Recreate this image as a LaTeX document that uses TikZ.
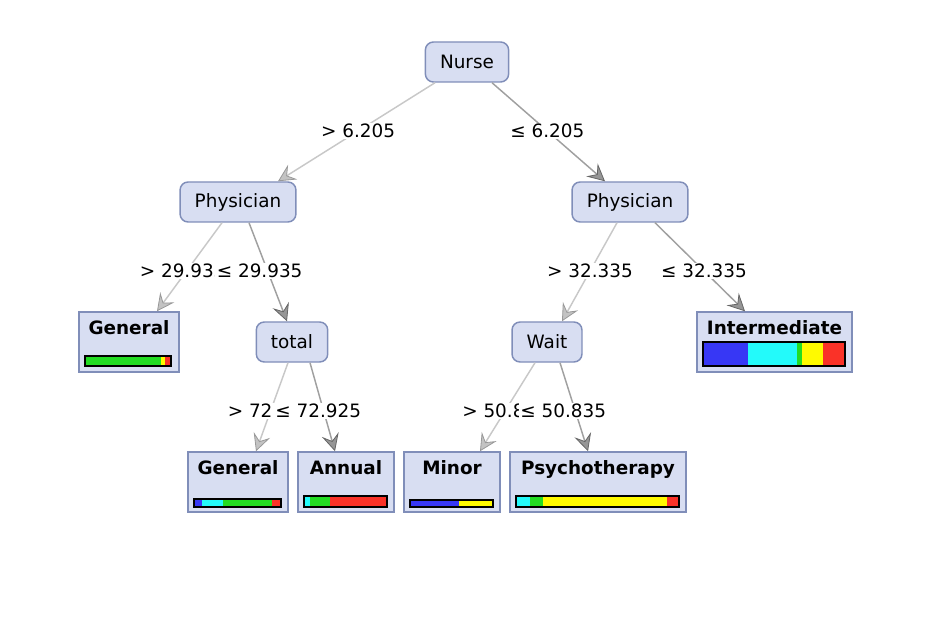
\documentclass[tikz,border=0pt]{standalone}
\usepackage{fontspec}
\setmainfont{DejaVu Sans}
\usetikzlibrary{arrows.meta, calc}

\definecolor{nodefill}{RGB}{216,222,242}
\definecolor{nodeline}{RGB}{128,142,185}
\definecolor{lightedge}{RGB}{200,200,200}
\definecolor{darkedge}{RGB}{160,160,160}
\definecolor{lightarrow}{RGB}{195,195,195}
\definecolor{darkarrow}{RGB}{150,150,150}
\definecolor{cblue}{RGB}{55,55,245}
\definecolor{ccyan}{RGB}{35,250,250}
\definecolor{cgreen}{RGB}{35,220,35}
\definecolor{cyellow}{RGB}{255,250,0}
\definecolor{cred}{RGB}{250,50,40}

\begin{document}
\begin{tikzpicture}[
    x=0.75pt, y=-0.75pt,
    font=\fontsize{13.8}{16}\selectfont,
    inner/.style={
        draw=nodeline, fill=nodefill, rounded corners=6pt,
        line width=1.1pt, minimum height=30pt, inner xsep=11pt
    },
    leaf/.style={
        draw=nodeline, fill=nodefill, line width=1.1pt,
        minimum height=45pt, inner sep=0pt
    },
    leaftxt/.style={
        font=\fontsize{13.8}{16}\selectfont\bfseries,
        anchor=north, inner sep=0pt, yshift=-7pt
    },
    gtedge/.style={
        draw=lightedge, line width=1.1pt,
        -{Stealth[length=13pt, width=13pt, inset=5pt, fill=lightarrow, color=gray!80, line width=0.6pt]}
    },
    leedge/.style={
        draw=darkedge, line width=1.1pt,
        -{Stealth[length=13pt, width=13pt, inset=5pt, fill=darkarrow, color=gray!120, line width=0.6pt]}
    },
    cond/.style={fill=white, inner sep=1pt},
    barline/.style={draw=black, line width=1.3pt},
]

\useasboundingbox (0,0) rectangle (930,630);

% ====== TEST NODES ======
\node[inner] (nurse) at (467,62) {Nurse};
\node[inner] (physL) at (238,202) {Physician};
\node[inner] (physR) at (630,202) {Physician};
\node[inner] (total) at (292,342) {total};
\node[inner] (wait) at (547,342) {Wait};

% ====== LEAVES ======
\node[leaf, minimum width=75pt, label={[leaftxt]north:General}] (gen1) at (129,342) {};
\node[leaf, minimum width=116pt, label={[leaftxt]north:Intermediate}] (inter) at (774.5,342) {};
\node[leaf, minimum width=75pt, label={[leaftxt]north:General}] (gen2) at (238,482) {};
\node[leaf, minimum width=72pt, label={[leaftxt]north:Annual}] (annual) at (346,482) {};
\node[leaf, minimum width=72pt, label={[leaftxt]north:Minor}] (minor) at (452,482) {};
\node[leaf, minimum width=132pt, label={[leaftxt]north:Psychotherapy}] (psych) at (598,482) {};

% ====== EDGES ======
\draw[gtedge] ($(nurse.south)+(-32,0)$) -- node[cond, pos=0.49] {> 6.205} ($(physL.north)+(40,0)$);
\draw[leedge] ($(nurse.south)+(25,0)$) -- node[cond, pos=0.49] {≤ 6.205} ($(physR.north)+(-25,0)$);

\draw[gtedge] ($(physL.south)+(-16,0)$) -- node[cond, pos=0.544, xshift=-3pt] {> 29.935} ($(gen1.north)+(28,0)$);
\draw[leedge] ($(physL.south)+(11,0)$) -- node[cond, pos=0.49, xshift=-6pt] {≤ 29.935} ($(total.north)+(-5,0)$);

\draw[gtedge] ($(physR.south)+(-13,0)$) -- node[cond, pos=0.49] {> 32.335} ($(wait.north)+(15,0)$);
\draw[leedge] ($(physR.south)+(25,0)$) -- node[cond, pos=0.544] {≤ 32.335} ($(inter.north)+(-29.5,0)$);

\draw[gtedge] ($(total.south)+(-4,0)$) -- node[cond, pos=0.544] {> 72.925} ($(gen2.north)+(18,0)$);
\draw[leedge] ($(total.south)+(18,0)$) -- node[cond, pos=0.544, xshift=-4pt] {≤ 72.925} ($(annual.north)+(-11,0)$);

\draw[gtedge] ($(wait.south)+(-12,0)$) -- node[cond, pos=0.544] {> 50.835} ($(minor.north)+(28,0)$);
\draw[leedge] ($(wait.south)+(13,0)$) -- node[cond, pos=0.544, xshift=-9pt] {≤ 50.835} ($(psych.north)+(-10,0)$);

% ====== CLASS BARS ======
\foreach \a/\b/\c in {85/161/cgreen, 161/165/cyellow, 165/171/cred}
    \fill[\c] (\a,356) rectangle (\b,366);
\draw[barline] (85,356) rectangle (171,366);

\foreach \a/\b/\c in {703/748/cblue, 748/797/ccyan, 797/802/cgreen, 802/823/cyellow, 823/845/cred}
    \fill[\c] (\a,342) rectangle (\b,366);
\draw[barline] (703,342) rectangle (845,366);

\foreach \a/\b/\c in {194/202/cblue, 202/223/ccyan, 223/272/cgreen, 272/281/cred}
    \fill[\c] (\a,499) rectangle (\b,507);
\draw[barline] (194,499) rectangle (281,507);

\foreach \a/\b/\c in {304/310/ccyan, 310/330/cgreen, 330/387/cred}
    \fill[\c] (\a,496) rectangle (\b,507);
\draw[barline] (304,496) rectangle (387,507);

\foreach \a/\b/\c in {410/459/cblue, 459/493/cyellow}
    \fill[\c] (\a,500) rectangle (\b,507);
\draw[barline] (410,500) rectangle (493,507);

\foreach \a/\b/\c in {516/530/ccyan, 530/543/cgreen, 543/667/cyellow, 667/679/cred}
    \fill[\c] (\a,496) rectangle (\b,507);
\draw[barline] (516,496) rectangle (679,507);

\end{tikzpicture}
\end{document}
